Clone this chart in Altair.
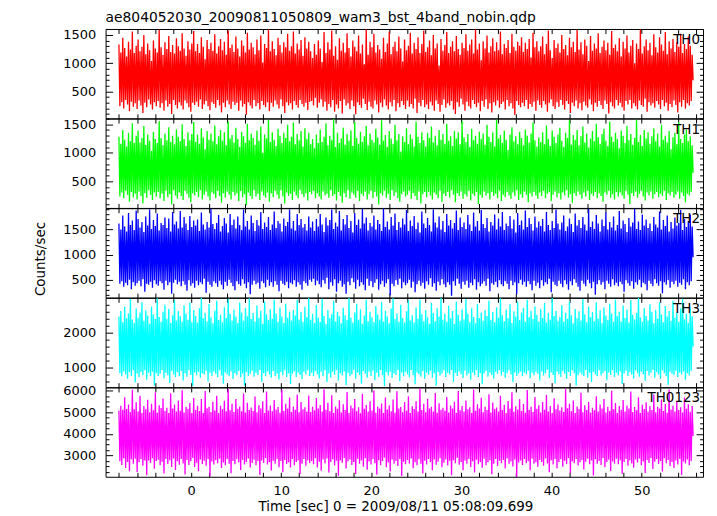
import altair as alt
import pandas as pd

TITLE = "ae804052030_20090811050809_wam3_bst_4band_nobin.qdp"
X_TITLE = "Time [sec] 0 = 2009/08/11 05:08:09.699"
Y_TITLE = "Counts/sec"

T_FIRST = -8.0
T_LAST = 55.7
X_DOMAIN = [-9.48, 56.8]

th0 = [
    1330, 240, 1190, 310, 1450, 200, 1270, 350, 1120, 270, 1380, 150, 1240, 320, 1560, 230, 1180, 290, 1310, 190,
    1420, 340, 1210, 250, 1290, 120, 1500, 300, 1160, 220, 1350, 360, 1230, 270, 1040, 180, 1400, 310, 1260, 240,
    1190, 330, 1590, 210, 1280, 290, 1150, 160, 1370, 340, 1250, 230, 1480, 280, 1200, 100, 1320, 350, 1170, 260,
    1440, 200, 1300, 310, 1220, 250, 1530, 180, 1260, 340, 1130, 290, 1390, 220, 1240, 140, 1350, 300, 1570, 260,
    1210, 320, 1340, 230, 1180, 360, 1460, 190, 1290, 270, 1070, 330, 1410, 240, 1250, 170, 1360, 310, 1220, 280,
    1510, 210, 1170, 350, 1300, 250, 1430, 130, 1230, 300, 1380, 220, 1150, 340, 1580, 270, 1270, 190, 1330, 320,
    1200, 260, 1470, 300, 1260, 160, 1120, 340, 1400, 230, 1310, 280, 1190, 90, 1540, 310, 1240, 250, 1360, 200,
    1280, 350, 1160, 240, 1420, 290, 1230, 180, 1490, 330, 1010, 260, 1340, 220, 1270, 310, 1600, 150, 1210, 300,
    1390, 230, 1250, 340, 1140, 270, 1450, 200, 1320, 360, 1190, 240, 1370, 120, 1280, 310, 1520, 250, 1220, 290,
    1300, 180, 1560, 330, 1170, 260, 1350, 210, 1240, 350, 1410, 280, 1130, 230, 1460, 300, 1260, 170, 1380, 320,
    1210, 330, 1090, 250, 1340, 390, 1150, 210, 1400, 300, 1260, 360, 1020, 230, 1550, 320, 1180, 160, 1370, 280,
    1240, 220, 1580, 350, 1130, 140, 1300, 270, 1060, 200, 1440, 330, 1220, 110, 1360, 360, 1190, 250, 1530, 290,
    1270, 190, 1120, 340, 1400, 240, 1290, 95, 1210, 310, 1490, 260, 1170, 210, 1330, 370, 980, 280, 1600, 170,
    1150, 320, 1380, 230, 1280, 200, 1520, 340, 1190, 270, 1320, 130, 1240, 300, 1080, 220, 1450, 360, 1200, 250,
    1350, 180, 1560, 310, 1160, 240, 1290, 350, 1380, 150, 1210, 290, 1470, 220, 1260, 330, 1030, 260, 1420, 190,
    1230, 340, 1310, 230, 1540, 280, 1170, 200, 1360, 370, 1250, 120, 1460, 300, 1180, 240, 1340, 350, 1580, 220,
    1200, 270, 1280, 190, 1400, 320, 1140, 250, 1500, 160, 1260, 340, 1350, 280, 960, 140, 1430, 260, 1220, 360,
    1320, 210, 1550, 290, 1180, 250, 1290, 330, 1390, 180, 1210, 100, 1480, 310, 1250, 230, 1150, 370, 1360, 270,
    1270, 160, 1510, 320, 1220, 240, 1330, 200, 1420, 350, 1170, 280, 1600, 220, 1240, 300, 1350, 150, 1050, 330,
    1390, 230, 1260, 360, 1490, 190, 1190, 290, 1300, 130, 1440, 310, 1210, 250, 1370, 340, 1230, 210, 1560, 280,
    1160, 320, 1340, 180, 1270, 350, 1410, 240, 1180, 290, 1520, 200, 1290, 85, 1220, 330, 1380, 260, 1310, 220,
    1460, 300, 1200, 240, 1360, 350, 1250, 190, 1430, 280, 1100, 230, 1540, 320, 1280, 160, 1390, 340, 1210, 260,
    1300, 210, 1470, 330, 1160, 270, 1340, 140, 1580, 300, 1230, 360, 1090, 240, 1410, 190, 1270, 310, 1350, 230,
    1190, 350, 1500, 260, 1250, 180, 1320, 330, 1140, 280, 1450, 120, 1280, 300, 1380, 240, 1200, 340, 1590, 200,
    1240, 290, 1370, 170, 1160, 320, 1420, 250, 1310, 210, 1040, 360, 1480, 270, 1220, 150, 1350, 300, 1260, 230,
    1530, 330, 1180, 260, 1290, 190, 1400, 340, 1230, 280, 1360, 110, 1150, 310, 1570, 240, 1270, 200, 1330, 350,
    1210, 250, 1440, 300, 1120, 220, 1380, 160, 1260, 330, 1490, 270, 1190, 350, 1310, 200, 1410, 290, 1000, 240,
    1350, 180, 1250, 340, 1600, 260, 1170, 230, 1300, 370, 1420, 140, 1230, 310, 1360, 250, 1140, 290, 1510, 210,
    1280, 330, 1190, 270, 1460, 190, 1330, 350, 1220, 240, 1550, 300, 1160, 160, 1390, 280, 1260, 220, 1430, 340,
    1200, 260, 1370, 130, 1290, 310, 1520, 230, 1180, 350, 1340, 200, 1250, 290, 1470, 250, 1310, 330, 1150, 700,
]

th1 = [
    1280, 230, 1160, 300, 1400, 200, 1230, 330, 1110, 260, 1350, 140, 1200, 310, 1520, 220, 1170, 280, 1300, 180,
    1390, 320, 1180, 240, 1260, 110, 1470, 290, 1140, 210, 1320, 340, 1210, 260, 1030, 170, 1370, 300, 1240, 230,
    1170, 310, 1560, 200, 1260, 280, 1130, 150, 1340, 330, 1220, 220, 1450, 270, 1190, 90, 1300, 340, 1150, 250,
    1410, 190, 1280, 300, 1200, 240, 1500, 170, 1240, 330, 1120, 280, 1360, 210, 1220, 130, 1330, 290, 1540, 250,
    1190, 310, 1320, 220, 1160, 340, 1430, 180, 1270, 260, 1060, 320, 1380, 230, 1230, 160, 1340, 300, 1200, 270,
    1480, 200, 1150, 330, 1290, 240, 1400, 120, 1210, 290, 1360, 210, 1130, 320, 1550, 260, 1250, 180, 1310, 310,
    1180, 250, 1440, 290, 1240, 150, 1100, 330, 1370, 220, 1290, 270, 1170, 80, 1510, 300, 1220, 240, 1340, 190,
    1260, 340, 1140, 230, 1390, 280, 1210, 170, 1460, 320, 1000, 250, 1320, 210, 1250, 300, 1580, 140, 1190, 290,
    1360, 220, 1230, 330, 1120, 260, 1420, 190, 1300, 340, 1170, 230, 1350, 110, 1260, 300, 1490, 240, 1200, 280,
    1280, 170, 1530, 320, 1150, 250, 1330, 200, 1220, 340, 1380, 270, 1110, 220, 1430, 290, 1240, 160, 1350, 310,
    1150, 270, 1240, 330, 1080, 200, 1320, 290, 1170, 230, 1410, 180, 1190, 320, 1280, 250, 1520, 280, 1130, 210,
    1300, 340, 1220, 240, 1590, 270, 1100, 160, 1350, 310, 1170, 240, 1250, 120, 1440, 290, 1140, 220, 1330, 340,
    1210, 190, 1390, 300, 1120, 260, 1540, 210, 1260, 330, 1160, 150, 1370, 280, 1190, 240, 1290, 320, 1470, 180,
    1130, 270, 1340, 330, 1230, 200, 1180, 310, 1420, 230, 1270, 90, 1140, 290, 1570, 250, 1210, 330, 1310, 210,
    1100, 280, 1380, 170, 1250, 340, 1160, 240, 1490, 300, 1220, 200, 1330, 140, 1020, 270, 1290, 320, 1190, 230,
    1430, 260, 1150, 330, 1320, 190, 1240, 290, 1110, 240, 1550, 170, 1280, 320, 1170, 110, 1360, 270, 1220, 310,
    1110, 220, 1350, 310, 1260, 250, 1460, 180, 1180, 300, 1300, 260, 1130, 200, 1400, 330, 1230, 140, 1330, 280,
    1160, 240, 1510, 310, 1210, 210, 1290, 340, 1120, 260, 1380, 130, 1250, 290, 1360, 240, 1150, 320, 1560, 190,
    1270, 270, 1190, 230, 1330, 330, 1100, 160, 1420, 280, 1220, 240, 1300, 310, 1160, 100, 1370, 260, 1240, 210,
    1340, 320, 1140, 250, 1490, 290, 1280, 180, 1190, 310, 1360, 240, 1110, 280, 1580, 200, 1250, 330, 1310, 150,
    1170, 260, 1390, 220, 1230, 310, 1050, 250, 1320, 190, 1450, 300, 1200, 240, 1290, 340, 1150, 170, 1370, 270,
    1260, 210, 1130, 320, 1410, 260, 1300, 130, 1180, 290, 1340, 230, 1530, 310, 1220, 250, 1110, 190, 1270, 300,
    1190, 240, 1360, 330, 1150, 200, 1480, 280, 1240, 310, 1120, 150, 1390, 260, 1280, 320, 1170, 220, 1320, 290,
    1440, 180, 1210, 300, 1100, 250, 1350, 340, 1260, 210, 1570, 270, 1140, 120, 1310, 290, 1230, 240, 1400, 320,
    1130, 260, 1290, 190, 1460, 300, 1180, 230, 1340, 330, 1090, 170, 1250, 280, 1380, 240, 1200, 310, 1510, 200,
    1270, 290, 1160, 240, 1330, 140, 1420, 300, 1210, 260, 1120, 330, 1550, 210, 1280, 270, 1190, 180, 1350, 310,
    1240, 230, 1080, 300, 1390, 250, 1300, 190, 1170, 330, 1470, 260, 1220, 100, 1330, 290, 1140, 240, 1260, 320,
    1580, 210, 1190, 280, 1310, 330, 1120, 230, 1400, 160, 1250, 300, 1360, 250, 1160, 320, 1290, 190, 1430, 270,
    1200, 310, 1340, 220, 1110, 280, 1490, 240, 1230, 330, 1300, 170, 1180, 290, 1380, 250, 1060, 310, 1270, 210,
    1350, 260, 1150, 320, 1540, 190, 1240, 300, 1170, 240, 1320, 130, 1410, 280, 1200, 250, 1290, 310, 1130, 650,
]

th2 = [
    1620, 420, 1500, 470, 1780, 360, 1560, 440, 1460, 390, 1830, 500, 1590, 310, 1680, 450, 1490, 380, 1880, 430,
    1710, 480, 1540, 370, 1650, 510, 1450, 260, 1760, 420, 1580, 400, 1900, 460, 1510, 340, 1690, 490, 1570, 410,
    1820, 380, 1480, 470, 1630, 430, 1590, 300, 1740, 480, 1530, 390, 1720, 450, 1460, 220, 1850, 440, 1600, 500,
    1660, 410, 1520, 460, 1870, 370, 1540, 470, 1750, 400, 1620, 280, 1490, 490, 1770, 380, 1550, 430, 1680, 340,
    1580, 480, 1700, 390, 1470, 450, 1840, 410, 1600, 520, 1500, 240, 1650, 460, 1540, 400, 1910, 360, 1610, 470,
    1510, 430, 1630, 360, 1790, 480, 1460, 400, 1570, 310, 1730, 460, 1620, 380, 1440, 500, 1810, 440, 1590, 370,
    1700, 290, 1520, 470, 1760, 410, 1590, 380, 1490, 510, 1900, 420, 1560, 330, 1670, 450, 1500, 210, 1780, 400,
    1630, 480, 1470, 410, 1690, 440, 1580, 320, 1850, 470, 1510, 430, 1640, 350, 1550, 500, 1750, 380, 1490, 450,
    1600, 360, 1860, 470, 1530, 400, 1670, 270, 1620, 480, 1460, 420, 1720, 390, 1570, 460, 1650, 330, 1900, 440,
    1520, 410, 1670, 490, 1480, 360, 1810, 450, 1590, 400, 1710, 300, 1540, 470, 1610, 430, 1480, 380, 1760, 500,
    1540, 460, 1660, 520, 1470, 390, 1710, 480, 1560, 410, 1810, 350, 1600, 490, 1450, 420, 1740, 540, 1580, 310,
    1690, 450, 1900, 380, 1510, 510, 1640, 260, 1560, 430, 1870, 480, 1480, 360, 1710, 410, 1600, 220, 1790, 460,
    1530, 390, 1670, 530, 1440, 450, 1830, 320, 1590, 500, 1700, 370, 1520, 450, 1910, 400, 1620, 290, 1740, 520,
    1480, 380, 1630, 470, 1560, 350, 1780, 440, 1500, 510, 1690, 300, 1610, 410, 1470, 480, 1920, 360, 1550, 430,
    1660, 510, 1500, 190, 1750, 420, 1580, 370, 1820, 490, 1490, 400, 1650, 520, 1540, 330, 1720, 450, 1600, 390,
    1890, 430, 1470, 500, 1680, 340, 1570, 460, 1770, 250, 1510, 410, 1640, 480, 1440, 380, 1860, 440, 1620, 320,
    1530, 470, 1730, 400, 1590, 530, 1460, 360, 1900, 430, 1640, 280, 1540, 460, 1760, 390, 1500, 510, 1670, 410,
    1450, 350, 1810, 450, 1580, 400, 1690, 180, 1520, 470, 1630, 380, 1880, 520, 1490, 420, 1740, 320, 1550, 460,
    1640, 400, 1510, 480, 1790, 340, 1600, 440, 1470, 390, 1840, 510, 1560, 300, 1670, 450, 1480, 370, 1890, 420,
    1610, 470, 1530, 380, 1730, 520, 1460, 270, 1650, 430, 1580, 400, 1800, 460, 1500, 350, 1720, 490, 1560, 410,
    1850, 370, 1490, 470, 1620, 420, 1570, 310, 1770, 480, 1520, 390, 1700, 450, 1440, 210, 1830, 430, 1590, 500,
    1680, 400, 1500, 460, 1880, 360, 1550, 470, 1730, 410, 1610, 290, 1480, 480, 1760, 380, 1540, 440, 1660, 330,
    1570, 490, 1710, 380, 1460, 450, 1850, 410, 1590, 520, 1490, 250, 1670, 460, 1530, 400, 1900, 370, 1620, 480,
    1500, 420, 1640, 350, 1780, 490, 1470, 410, 1560, 300, 1720, 470, 1610, 390, 1450, 510, 1820, 440, 1580, 360,
    1690, 280, 1530, 480, 1750, 420, 1600, 370, 1480, 500, 1910, 430, 1550, 330, 1660, 460, 1510, 200, 1790, 410,
    1620, 490, 1460, 400, 1700, 450, 1570, 310, 1840, 480, 1500, 420, 1650, 360, 1540, 510, 1760, 390, 1480, 440,
    1590, 370, 1870, 460, 1520, 410, 1680, 260, 1610, 490, 1450, 430, 1730, 380, 1560, 470, 1640, 320, 1910, 450,
    1510, 400, 1660, 500, 1490, 350, 1800, 440, 1580, 410, 1700, 290, 1530, 480, 1620, 420, 1470, 370, 1750, 510,
    1600, 430, 1540, 380, 1860, 470, 1500, 230, 1690, 450, 1570, 400, 1780, 490, 1460, 340, 1650, 460, 1520, 410,
    1740, 480, 1580, 360, 1630, 440, 1890, 400, 1490, 510, 1710, 310, 1550, 450, 1670, 390, 1800, 470, 1560, 950,
]

th3 = [
    2460, 850, 2620, 760, 2300, 900, 2740, 820, 2410, 690, 2550, 880, 2960, 770, 2380, 930, 2280, 580, 2690, 840,
    2430, 730, 2580, 880, 2870, 790, 2340, 930, 2640, 660, 2490, 860, 2260, 770, 2750, 890, 2520, 500, 2390, 850,
    2980, 770, 2450, 830, 2310, 940, 2600, 700, 2800, 860, 2400, 790, 2680, 570, 2280, 920, 2500, 820, 2930, 730,
    2350, 880, 2620, 760, 2470, 910, 2320, 640, 2780, 850, 2540, 750, 2370, 930, 2860, 800, 2300, 490, 2650, 870,
    2480, 790, 2290, 890, 2700, 720, 2990, 840, 2410, 810, 2570, 920, 2330, 610, 2820, 860, 2440, 770, 2270, 900,
    2630, 830, 2910, 740, 2360, 930, 2510, 780, 2300, 550, 2730, 870, 2420, 810, 2970, 760, 2540, 900, 2350, 680,
    2660, 850, 2460, 790, 2280, 910, 2860, 730, 2580, 840, 2340, 500, 2710, 880, 2470, 770, 2980, 830, 2390, 920,
    2560, 750, 2320, 860, 2780, 800, 2430, 940, 2630, 610, 2260, 850, 2890, 760, 2520, 900, 2360, 810, 2680, 720,
    2400, 910, 2950, 770, 2550, 830, 2310, 670, 2720, 880, 2460, 790, 2280, 930, 2830, 740, 2430, 850, 2600, 540,
    2350, 830, 2650, 900, 2490, 740, 2940, 860, 2380, 800, 2600, 680, 2310, 890, 2740, 820, 2450, 930, 2990, 770,
    2370, 860, 2540, 770, 2280, 910, 2790, 820, 2430, 700, 2310, 890, 2970, 760, 2480, 930, 2250, 600, 2650, 840,
    2410, 720, 2530, 890, 2910, 800, 2320, 940, 2600, 640, 2470, 850, 2270, 780, 2710, 900, 2500, 510, 2360, 860,
    2990, 760, 2430, 820, 2290, 950, 2580, 690, 2830, 870, 2370, 800, 2670, 550, 2260, 910, 2490, 830, 2950, 720,
    2330, 890, 2600, 770, 2440, 920, 2300, 650, 2760, 860, 2520, 740, 2380, 940, 2880, 790, 2320, 480, 2630, 880,
    2460, 780, 2270, 900, 2690, 710, 2980, 850, 2390, 800, 2550, 930, 2310, 620, 2800, 870, 2420, 760, 2290, 890,
    2610, 820, 2930, 730, 2350, 940, 2500, 790, 2290, 530, 2720, 870, 2400, 820, 2950, 750, 2530, 910, 2330, 690,
    2650, 860, 2440, 800, 2260, 920, 2850, 720, 2560, 850, 2330, 490, 2700, 880, 2460, 780, 2990, 840, 2370, 930,
    2550, 740, 2310, 860, 2770, 810, 2410, 940, 2620, 600, 2250, 860, 2880, 770, 2510, 900, 2340, 820, 2670, 710,
    2380, 920, 2960, 780, 2540, 840, 2300, 660, 2700, 870, 2450, 790, 2270, 930, 2820, 740, 2420, 850, 2580, 530,
    2340, 840, 2640, 910, 2480, 750, 2920, 860, 2370, 800, 2590, 690, 2300, 890, 2730, 830, 2430, 940, 2980, 780,
    2500, 880, 2330, 720, 2660, 850, 2410, 930, 2810, 810, 2280, 600, 2610, 870, 2460, 770, 2890, 840, 2360, 900,
    2570, 760, 2710, 870, 2310, 820, 2940, 920, 2440, 700, 2630, 860, 2390, 790, 2750, 890, 2510, 830, 2320, 640,
    2680, 900, 2420, 780, 2850, 850, 2290, 950, 2560, 710, 2370, 870, 2990, 800, 2480, 560, 2620, 890, 2340, 820,
    2450, 740, 2790, 910, 2310, 830, 2570, 680, 2400, 880, 2900, 770, 2500, 930, 2270, 850, 2680, 500, 2410, 790,
    2610, 870, 2350, 810, 2960, 760, 2530, 940, 2300, 720, 2740, 860, 2440, 600, 2590, 890, 2330, 820, 2870, 760,
    2400, 930, 2640, 780, 2280, 850, 2720, 910, 2490, 650, 2360, 870, 2830, 800, 2550, 940, 2310, 740, 2950, 860,
    2470, 790, 2600, 900, 2320, 540, 2780, 840, 2420, 920, 2660, 770, 2290, 880, 2930, 810, 2510, 700, 2380, 930,
    2560, 850, 2990, 750, 2440, 890, 2310, 820, 2700, 630, 2480, 910, 2350, 780, 2810, 860, 2590, 940, 2270, 720,
    2650, 880, 2400, 810, 2870, 690, 2520, 930, 2300, 850, 2760, 760, 2460, 520, 2620, 890, 2340, 830, 2910, 790,
    2430, 920, 2580, 740, 2310, 870, 2690, 810, 2970, 900, 2380, 660, 2540, 850, 2280, 780, 2730, 910, 2470, 1600,
]

th0123 = [
    5080, 2730, 5300, 2560, 5120, 2860, 5700, 2420, 5150, 2700, 5360, 2270, 5010, 2820, 6040, 2610, 5140, 2850, 5460, 2230,
    5030, 2680, 5760, 2830, 4970, 2520, 5290, 2760, 5140, 2080, 5580, 2760, 5000, 2650, 5390, 2870, 5090, 2380, 5920, 2740,
    4980, 2800, 5330, 2550, 5200, 2710, 5640, 2160, 5060, 2840, 5210, 2600, 4960, 2780, 5880, 2460, 5170, 2860, 5360, 2330,
    5040, 2730, 5530, 2570, 5070, 2840, 6020, 2630, 4990, 2120, 5250, 2790, 5160, 2560, 5430, 2730, 4970, 2880, 5660, 2460,
    5110, 2660, 5300, 2270, 5060, 2810, 5610, 2600, 4970, 2750, 5990, 2520, 5190, 2830, 5260, 2040, 5010, 2720, 5490, 2580,
    5080, 2780, 5760, 2640, 4960, 2850, 5300, 2420, 5140, 2670, 5530, 2550, 5050, 2830, 6070, 2620, 5090, 2170, 5400, 2740,
    5010, 2590, 5610, 2820, 5160, 2680, 5270, 2320, 5050, 2800, 5870, 2580, 4990, 2700, 5440, 2860, 5110, 2440, 5220, 2650,
    5060, 2800, 5730, 2540, 5000, 2740, 5330, 2090, 5170, 2770, 5510, 2650, 4970, 2880, 5960, 2580, 5080, 2690, 5310, 2300,
    5050, 2750, 5570, 2610, 5130, 2830, 5240, 2450, 4980, 2740, 6040, 2220, 5060, 2790, 5390, 2600, 5170, 2680, 5690, 2440,
    5010, 2840, 5270, 2540, 5120, 2690, 5820, 2770, 5000, 2140, 5470, 2610, 5140, 2830, 5230, 2520, 5040, 2760, 5780, 2650,
    5010, 2740, 5260, 2590, 5090, 2870, 5660, 2440, 5170, 2710, 5340, 2290, 5030, 2810, 6070, 2630, 5120, 2860, 5440, 2210,
    5050, 2690, 5790, 2820, 4960, 2530, 5270, 2750, 5160, 2060, 5560, 2770, 4990, 2660, 5370, 2880, 5110, 2390, 5940, 2730,
    4970, 2810, 5310, 2560, 5190, 2700, 5610, 2140, 5050, 2850, 5230, 2610, 4950, 2770, 5860, 2470, 5160, 2870, 5340, 2340,
    5030, 2720, 5510, 2580, 5080, 2830, 6010, 2640, 4980, 2110, 5270, 2780, 5170, 2550, 5410, 2740, 4960, 2890, 5690, 2450,
    5130, 2670, 5320, 2260, 5050, 2800, 5590, 2610, 4980, 2740, 5970, 2510, 5180, 2840, 5240, 2050, 5000, 2710, 5470, 2590,
    5070, 2790, 5740, 2630, 4970, 2860, 5280, 2410, 5150, 2680, 5510, 2540, 5040, 2820, 6090, 2610, 5100, 2160, 5390, 2750,
    5000, 2580, 5630, 2830, 5170, 2690, 5260, 2310, 5040, 2810, 5890, 2570, 4980, 2710, 5420, 2870, 5120, 2450, 5210, 2660,
    5070, 2810, 5710, 2530, 4990, 2750, 5310, 2080, 5180, 2780, 5490, 2640, 4960, 2890, 5980, 2570, 5090, 2700, 5290, 2310,
    5040, 2760, 5550, 2620, 5140, 2840, 5230, 2460, 4970, 2730, 6050, 2210, 5070, 2800, 5370, 2590, 5180, 2690, 5670, 2430,
    5000, 2850, 5250, 2550, 5110, 2680, 5840, 2780, 4990, 2130, 5450, 2620, 5150, 2840, 5220, 2510, 5030, 2750, 5760, 2640,
    5100, 2790, 5350, 2390, 4960, 2860, 5520, 2610, 5170, 2720, 5930, 2490, 5020, 2810, 5280, 2000, 5130, 2670, 5600, 2760,
    5060, 2560, 5380, 2840, 4980, 2640, 6030, 2730, 5100, 2310, 5260, 2850, 5010, 2610, 5710, 2680, 5160, 2470, 5330, 2790,
    4990, 2700, 5470, 2520, 5120, 2860, 5800, 2630, 5040, 2220, 5290, 2770, 4970, 2580, 5650, 2830, 5140, 2400, 5360, 2690,
    5080, 2820, 5230, 2480, 5010, 2750, 6080, 2600, 5190, 2880, 5400, 2170, 5050, 2730, 5540, 2640, 4960, 2840, 5270, 2530,
    5150, 2680, 5900, 2790, 5000, 2350, 5320, 2710, 5110, 2850, 5480, 2590, 4980, 2760, 5210, 2070, 5090, 2820, 5740, 2620,
    5030, 2740, 5360, 2560, 5170, 2870, 5620, 2450, 4990, 2690, 5250, 2800, 5060, 2280, 6000, 2720, 5140, 2610, 5430, 2850,
    4970, 2590, 5290, 2780, 5120, 2150, 5570, 2700, 5040, 2840, 5310, 2520, 5180, 2760, 5960, 2630, 5010, 2430, 5240, 2810,
    5090, 2670, 5700, 2860, 4960, 2540, 5350, 2720, 5150, 2190, 5460, 2790, 5030, 2650, 5280, 2880, 5100, 2370, 5820, 2710,
    5000, 2830, 5260, 2600, 5170, 2740, 5590, 2250, 5060, 2870, 5380, 2640, 4980, 2790, 6060, 2510, 5130, 2700, 5300, 2420,
    5040, 2760, 5520, 2580, 5110, 2850, 5230, 2090, 4990, 2720, 5680, 2630, 5160, 2810, 5370, 2550, 5020, 2740, 5290, 3900,
]

SERIES = [th0, th1, th2, th3, th0123]
NAMES = ["TH0", "TH1", "TH2", "TH3", "TH0123"]
COLORS = ["#ff0000", "#00ff00", "#0000ff", "#00ffff", "#ff00ff"]
Y_DOMAINS = [[25, 1605], [30, 1600], [146, 1926], [450, 2995], [2010, 6150]]
Y_MINOR = [100, 100, 100, 200, 250]
Y_MAJOR = [500, 500, 500, 1000, 1000]
X_TICK_STEP = 2
X_MAJOR = 10

FONT = "DejaVu Sans"
FS = 13
W, H = 600, 89.7
TITLE_PANEL = 2


def panel(i):
    vals = SERIES[i]
    n = len(vals)
    step = (T_LAST - T_FIRST) / (n - 1)
    df = pd.DataFrame({"t": [T_FIRST + k * step for k in range(n)], "v": vals})
    lo, hi = Y_DOMAINS[i]
    minor, major = Y_MINOR[i], Y_MAJOR[i]
    yticks = [v for v in range(0, 7000, minor) if lo <= v <= hi]
    xticks = [v for v in range(-10, 60, X_TICK_STEP) if X_DOMAIN[0] <= v <= X_DOMAIN[1]]
    last = i == len(SERIES) - 1

    xs = alt.Scale(domain=X_DOMAIN, nice=False, zero=False)
    ys = alt.Scale(domain=[lo, hi], nice=False, zero=False)
    ysize = alt.ExprRef(f"datum.value % {major} === 0 ? -7 : -3.5")
    xsize = alt.ExprRef("-4.5")

    left_kw = dict(
        orient="left", values=yticks, tickSize=ysize, format="d",
        labelExpr=f"datum.value % {major} === 0 ? datum.label : ''",
        labelPadding=17, labelOverlap=False, labelBaseline="middle",
        title=None, minExtent=0, maxExtent=200,
    )
    if i == TITLE_PANEL:
        left_kw.update(title=Y_TITLE, titleX=-61, titleY=50.5,
                       titleBaseline="alphabetic", titleAngle=270)
    left = alt.Axis(**left_kw)
    right = alt.Axis(orient="right", values=yticks, tickSize=ysize,
                     labels=False, title=None, minExtent=0, maxExtent=0)
    top = alt.Axis(orient="top", values=xticks, tickSize=xsize,
                   labels=False, title=None, minExtent=0, maxExtent=0)
    if last:
        bottom = alt.Axis(orient="bottom", values=xticks, tickSize=xsize, format="d",
                          labelExpr=f"datum.value % {X_MAJOR} === 0 ? datum.label : ''",
                          labelPadding=12.5, labelOverlap=False,
                          title=X_TITLE, titleX=291, titleY=34,
                          titleBaseline="alphabetic")
    else:
        bottom = alt.Axis(orient="bottom", values=xticks, tickSize=xsize,
                          labels=False, title=None, minExtent=0, maxExtent=0)

    line = alt.Chart(df).mark_line(color=COLORS[i], strokeWidth=1.3, clip=True).encode(
        x=alt.X("t:Q", scale=xs, axis=bottom),
        y=alt.Y("v:Q", scale=ys, axis=left),
    )
    lab = pd.DataFrame({"name": [NAMES[i]], "x": [X_DOMAIN[1]], "y": [hi]})
    text = alt.Chart(lab).mark_text(
        align="right", baseline="top", dx=-3, dy=4, font=FONT, fontSize=FS + 0.5, color="black"
    ).encode(
        x=alt.X("x:Q", scale=xs, axis=top),
        y=alt.Y("y:Q", scale=ys, axis=right),
        text="name:N",
    )
    layers = [line, text]
    if i == 0:
        tdf = pd.DataFrame({"name": [TITLE], "x": [X_DOMAIN[0]], "y": [hi]})
        title = alt.Chart(tdf).mark_text(
            align="left", baseline="alphabetic", dy=-7, font=FONT, fontSize=13.9, color="black"
        ).encode(
            x=alt.X("x:Q", scale=xs, axis=None),
            y=alt.Y("y:Q", scale=ys, axis=None),
            text="name:N",
        )
        layers.append(title)
    return alt.layer(*layers).resolve_axis(x="independent", y="independent").properties(
        width=W, height=H
    )


chart = alt.vconcat(*[panel(i) for i in range(len(SERIES))], spacing=0, bounds="flush").properties(
    padding={"left": 25, "top": 1, "right": 5, "bottom": 0}
).configure_view(stroke="black", strokeWidth=1).configure_axis(
    domain=False, grid=False, tickColor="black", tickWidth=1,
    labelFont=FONT, labelFontSize=FS, labelColor="black",
    titleFont=FONT, titleFontSize=FS + 0.5, titleFontWeight="normal", titleColor="black",
)

chart.save("out.html", embed_options={"renderer": "svg", "actions": False})
